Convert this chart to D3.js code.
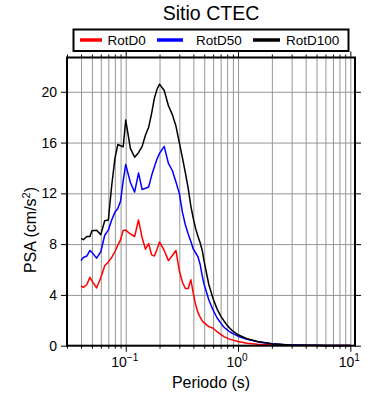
<!DOCTYPE html>
<html>
<head>
<meta charset="utf-8">
<script src="https://cdn.jsdelivr.net/npm/d3@7"></script>
<style>
  body { margin: 0; background: #fff; }
  text { font-family: "Liberation Sans", Arial, Helvetica, sans-serif; }
</style>
</head>
<body>
<div class="container"></div>
<script>
// periods (s) shared by the three spectra
const periods = [0.04,0.042,0.045,0.048,0.05,0.055,0.06,0.065,0.07,0.075,
  0.08,0.085,0.09,0.095,0.1,0.11,0.12,0.13,0.14,0.15,
  0.16,0.17,0.18,0.19,0.2,0.22,0.24,0.26,0.28,0.3,
  0.32,0.34,0.36,0.38,0.4,0.42,0.44,0.46,0.48,0.5,
  0.55,0.6,0.65,0.7,0.75,0.8,0.85,0.9,1,1.2,
  1.5,2,2.5,3,4,5,6,7.5,10];

const rotD0 = [4.7,4.6,4.8,5.38,5.1,4.55,5.35,6.3,6.6,6.95,
  7.4,7.9,8.35,9.1,9.1,8.8,8.6,9.9,8.5,7.6,
  8.05,7.15,7.06,7.6,8.17,7.5,6.7,7.1,7.5,5.9,
  5.0,4.5,4.5,5.2,4.1,3.2,2.6,2.25,1.95,1.8,
  1.5,1.37,1.1,0.9,0.72,0.6,0.5,0.44,0.33,0.2,
  0.12,0.07,0.05,0.04,0.03,0.02,0.015,0.012,0.01];

const rotD50 = [6.7,6.95,7.06,7.5,7.35,6.9,7.4,8.7,9.1,9.9,
  10.5,10.8,11.4,13.0,14.28,12.85,12.1,13.6,12.3,12.4,
  12.5,13.4,14.1,14.7,15.15,15.7,14.36,13.8,12.9,12.0,
  10.5,9.5,8.8,8.2,7.6,7.3,7.0,6.4,5.5,4.8,
  3.6,2.8,2.2,1.8,1.45,1.25,1.08,0.95,0.75,0.5,
  0.3,0.16,0.1,0.07,0.045,0.03,0.022,0.016,0.012];

const rotD100 = [8.46,8.35,8.6,8.6,9.06,9.1,8.75,9.84,9.9,12.6,
  14.7,15.85,15.75,15.67,17.77,15.54,14.85,15.2,15.7,16.6,
  17.2,18.3,19.5,20.2,20.6,20.1,18.9,18.2,17.3,16.0,
  14.8,13.6,12.4,11.0,10.0,9.2,8.6,8.1,7.5,6.6,
  4.8,3.7,2.9,2.35,1.95,1.6,1.35,1.15,0.86,0.55,
  0.33,0.16,0.1,0.065,0.04,0.03,0.022,0.016,0.012];

const seriesNames = ['RotD0', 'RotD50', 'RotD100'];
const seriesColors = ['#ff0000', '#0000ff', '#000000'];
const yTicks = [0, 4, 8, 12, 16, 20];
const xMajor = [0.1, 1, 10];
const xMajorExp = ['\u22121', '0', '1'];
const title = 'Sitio CTEC';
const xTitle = 'Periodo (s)';

const W = 390, H = 400;
const pL = 67, pR = 355, pT = 57.5, pB = 345.7;

const svg = d3.select('.container')
  .append('svg')
  .attr('width', W)
  .attr('height', H);

const x = d3.scaleLog().domain([0.03, 11]).range([pL, pR]);
const y = d3.scaleLinear().domain([0, 22.7]).range([pB, pT]);

// minor positions 1..9 per decade inside the domain
const xMinor = [];
[0.01, 0.1, 1, 10].forEach(function(d){
  for(let k = 1; k <= 9; k++){
    const v = +(k*d).toPrecision(3);
    if(v >= 0.03 && v <= 11 && xMajor.indexOf(v) < 0) xMinor.push(v);
  }
});

// grid
const gx = svg.append('g')
  .attr('transform', `translate(0,${pB})`)
  .call(d3.axisBottom(x).tickValues(xMinor.concat(xMajor)).tickSize(-(pB-pT)).tickFormat(''));
const gy = svg.append('g')
  .attr('transform', `translate(${pL},0)`)
  .call(d3.axisLeft(y).tickValues(yTicks.slice(1)).tickSize(-(pR-pL)).tickFormat(''));
[gx, gy].forEach(function(g){
  g.select('.domain').remove();
  g.selectAll('line').attr('stroke', '#959595').attr('stroke-width', 1);
});

// spectra
const line = d3.line()
  .x(function(d){ return x(d[0]); })
  .y(function(d){ return y(d[1]); });

[rotD0, rotD50, rotD100].forEach(function(vals, i){
  svg.append('path')
    .datum(periods.map(function(p, j){ return [p, vals[j]]; }))
    .attr('d', line)
    .attr('fill', 'none')
    .attr('stroke', seriesColors[i])
    .attr('stroke-width', 1.5)
    .attr('stroke-linejoin', 'round');
});

// ticks on the four sides
function tickGroup(axis, tx, ty){
  const g = svg.append('g').attr('transform', `translate(${tx},${ty})`).call(axis);
  g.select('.domain').remove();
  g.selectAll('line').attr('stroke', '#000').attr('stroke-width', 1);
  g.selectAll('text').remove();
  return g;
}
tickGroup(d3.axisBottom(x).tickValues(xMinor).tickSize(3), 0, pB);
tickGroup(d3.axisBottom(x).tickValues(xMajor).tickSize(6), 0, pB);
tickGroup(d3.axisTop(x).tickValues(xMinor).tickSize(3), 0, pT);
tickGroup(d3.axisTop(x).tickValues(xMajor).tickSize(6), 0, pT);
tickGroup(d3.axisLeft(y).tickValues(yTicks).tickSize(6), pL, 0);
tickGroup(d3.axisRight(y).tickValues(yTicks).tickSize(6), pR, 0);

// frame
svg.append('rect')
  .attr('x', pL).attr('y', pT)
  .attr('width', pR-pL).attr('height', pB-pT)
  .attr('fill', 'none').attr('stroke', '#000').attr('stroke-width', 2);

// y tick labels
svg.selectAll('.ylab').data(yTicks).enter().append('text')
  .attr('x', 57).attr('y', function(d){ return y(d); })
  .attr('dy', '0.36em')
  .attr('text-anchor', 'end')
  .attr('font-size', 14)
  .text(function(d){ return d; });

// x tick labels 10^n
xMajor.forEach(function(v, i){
  const t = svg.append('text')
    .attr('x', x(v) - 1).attr('y', 367)
    .attr('text-anchor', 'middle')
    .attr('font-size', 14);
  t.append('tspan').text('10');
  t.append('tspan').attr('dy', -6).attr('font-size', 10).text(xMajorExp[i]);
});

// axis titles
svg.append('text')
  .attr('x', (pL+pR)/2).attr('y', 388)
  .attr('text-anchor', 'middle')
  .attr('font-size', 16)
  .text(xTitle);

const yt = svg.append('text')
  .attr('transform', 'translate(36,230) rotate(-90)')
  .attr('text-anchor', 'middle')
  .attr('font-size', 16);
yt.append('tspan').text('PSA (cm/s');
yt.append('tspan').attr('dy', -6).attr('font-size', 11).text('2');
yt.append('tspan').attr('dy', 6).text(')');

// title
svg.append('text')
  .attr('x', (pL+pR)/2).attr('y', 19.5)
  .attr('text-anchor', 'middle')
  .attr('font-size', 19.5)
  .text(title);

// legend
const legLine = [[80, 102], [157, 183], [253, 280]];
const legText = [107.5, 196, 286];
const leg = svg.append('g');
leg.append('rect')
  .attr('x', 73.5).attr('y', 29.5).attr('width', 275).attr('height', 21.5)
  .attr('fill', '#fff').attr('stroke', '#000').attr('stroke-width', 2);
seriesNames.forEach(function(name, i){
  leg.append('line')
    .attr('x1', legLine[i][0]).attr('x2', legLine[i][1])
    .attr('y1', 40).attr('y2', 40)
    .attr('stroke', seriesColors[i]).attr('stroke-width', 3.5);
  leg.append('text')
    .attr('x', legText[i]).attr('y', 44.5)
    .attr('font-size', 13.5)
    .text(name);
});
</script>
</body>
</html>
